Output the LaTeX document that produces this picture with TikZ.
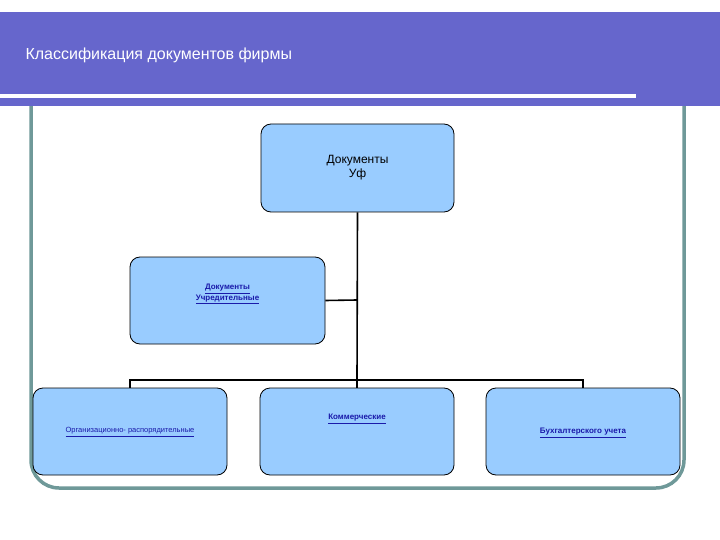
\documentclass[tikz,border=0pt]{standalone}
\usepackage{fontspec}
\setmainfont{Liberation Sans}
\newcommand\myul[1]{\underline{#1}}
\begin{document}
\begin{tikzpicture}[x=1pt,y=-1pt,
  box/.style={draw=black,line width=0.8pt,fill=boxblue,rounded corners=10pt,inner sep=0pt},
  lnk/.style={font=\fontsize{8}{9}\selectfont\bfseries,text=linkblue,align=center},
  conn/.style={draw=black,line width=1.6pt}]
\definecolor{band}{HTML}{6666CC}
\definecolor{frame}{HTML}{6F9999}
\definecolor{boxblue}{HTML}{99CCFF}
\definecolor{linkblue}{HTML}{1A1AAA}
\useasboundingbox (0,0) rectangle (720,540);
\fill[white] (0,0) rectangle (720,540);
\draw[frame,line width=3.5pt,rounded corners=28pt] (31,80) -- (31,488) -- (684,488) -- (684,80);
\fill[band] (0,12) rectangle (720,106);
\fill[white] (0,94) rectangle (636,98);
\node[anchor=west,text=white,font=\fontsize{16}{18}\selectfont] (title) at (22,55) {Классификация документов фирмы};
\node[box,minimum width=193pt,minimum height=88pt] (top) at (357.5,168) {};
\node[align=center,font=\fontsize{12}{14}\selectfont] (toptxt) at (357.5,168) {Документы\\Уф};
\node[box,minimum width=195pt,minimum height=87pt] (uch) at (227.5,300.5) {};
\node[lnk] (uchtxt) at (227.5,294) {\myul{Документы}\\\myul{Учредительные}};
\node[box,minimum width=194pt,minimum height=87pt] (b1) at (130,431.5) {};
\node[lnk,font=\fontsize{7.5}{9}\selectfont] (b1t) at (130,432) {\myul{Организационно- распорядительные}};
\node[box,minimum width=194pt,minimum height=87pt] (b2) at (357,431.5) {};
\node[lnk] (b2t) at (357,419) {\myul{Коммерческие}};
\node[box,minimum width=194pt,minimum height=87pt] (b3) at (583,431.5) {};
\node[lnk] (b3t) at (583,433) {\myul{Бухгалтерского учета}};
\coordinate (j) at (357,380);
\coordinate (m) at (357,300);
\draw[conn] (top.south) -- (j);
\draw[conn] (m) -- (uch.east);
\draw[conn] (b1.north) -- (b1.north |- j) -- (b3.north |- j) -- (b3.north);
\draw[conn] (j) -- (b2.north);
\end{tikzpicture}
\end{document}
